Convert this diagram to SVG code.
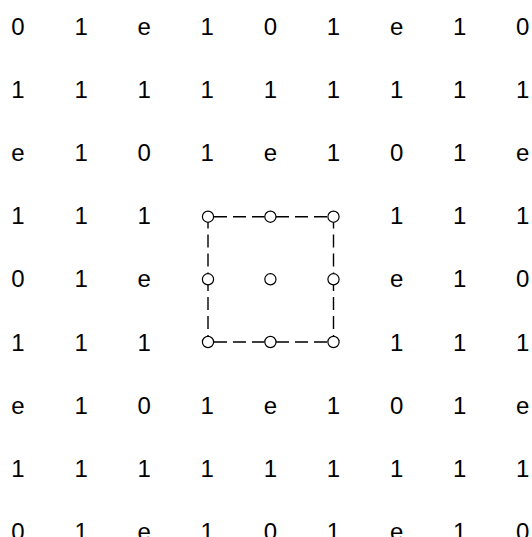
<svg xmlns="http://www.w3.org/2000/svg" width="532" height="537" viewBox="0 0 532 537">
<style>
text{font-family:"Liberation Sans",Arial,sans-serif;font-size:24px;fill:#000;text-anchor:middle}
.c{fill:#fff;stroke:#000;stroke-width:1.2}
.d{stroke:#000;stroke-width:1.4;stroke-dasharray:13 6;fill:none}
</style>
<rect width="532" height="537" fill="#fff"/>
<g id="labels">
<g id="r1"><text x="18" y="35">0</text><text x="81.1" y="35">1</text><text x="144.2" y="35">e</text><text x="207.3" y="35">1</text><text x="270.4" y="35">0</text><text x="333.5" y="35">1</text><text x="396.6" y="35">e</text><text x="459.7" y="35">1</text><text x="522.8" y="35">0</text></g>
<g id="r2"><text x="18" y="98.1">1</text><text x="81.1" y="98.1">1</text><text x="144.2" y="98.1">1</text><text x="207.3" y="98.1">1</text><text x="270.4" y="98.1">1</text><text x="333.5" y="98.1">1</text><text x="396.6" y="98.1">1</text><text x="459.7" y="98.1">1</text><text x="522.8" y="98.1">1</text></g>
<g id="r3"><text x="18" y="161.2">e</text><text x="81.1" y="161.2">1</text><text x="144.2" y="161.2">0</text><text x="207.3" y="161.2">1</text><text x="270.4" y="161.2">e</text><text x="333.5" y="161.2">1</text><text x="396.6" y="161.2">0</text><text x="459.7" y="161.2">1</text><text x="522.8" y="161.2">e</text></g>
<g id="r4"><text x="18" y="224.3">1</text><text x="81.1" y="224.3">1</text><text x="144.2" y="224.3">1</text><text x="396.6" y="224.3">1</text><text x="459.7" y="224.3">1</text><text x="522.8" y="224.3">1</text></g>
<g id="r5"><text x="18" y="287.4">0</text><text x="81.1" y="287.4">1</text><text x="144.2" y="287.4">e</text><text x="396.6" y="287.4">e</text><text x="459.7" y="287.4">1</text><text x="522.8" y="287.4">0</text></g>
<g id="r6"><text x="18" y="350.5">1</text><text x="81.1" y="350.5">1</text><text x="144.2" y="350.5">1</text><text x="396.6" y="350.5">1</text><text x="459.7" y="350.5">1</text><text x="522.8" y="350.5">1</text></g>
<g id="r7"><text x="18" y="413.6">e</text><text x="81.1" y="413.6">1</text><text x="144.2" y="413.6">0</text><text x="207.3" y="413.6">1</text><text x="270.4" y="413.6">e</text><text x="333.5" y="413.6">1</text><text x="396.6" y="413.6">0</text><text x="459.7" y="413.6">1</text><text x="522.8" y="413.6">e</text></g>
<g id="r8"><text x="18" y="476.7">1</text><text x="81.1" y="476.7">1</text><text x="144.2" y="476.7">1</text><text x="207.3" y="476.7">1</text><text x="270.4" y="476.7">1</text><text x="333.5" y="476.7">1</text><text x="396.6" y="476.7">1</text><text x="459.7" y="476.7">1</text><text x="522.8" y="476.7">1</text></g>
<g id="r9"><text x="18" y="539.8">0</text><text x="81.1" y="539.8">1</text><text x="144.2" y="539.8">e</text><text x="207.3" y="539.8">1</text><text x="270.4" y="539.8">0</text><text x="333.5" y="539.8">1</text><text x="396.6" y="539.8">e</text><text x="459.7" y="539.8">1</text><text x="522.8" y="539.8">0</text></g>
</g>
<g id="connectors">
<line class="d" x1="214" y1="216.7" x2="264.5" y2="216.7"/>
<line class="d" x1="276" y1="216.7" x2="327.5" y2="216.7"/>
<line class="d" x1="214" y1="342" x2="264.5" y2="342"/>
<line class="d" x1="276" y1="342" x2="327.5" y2="342"/>
<line class="d" x1="208" y1="222.5" x2="208" y2="273.5" stroke-dashoffset="7"/>
<line class="d" x1="208" y1="285" x2="208" y2="336" stroke-dashoffset="7"/>
<line class="d" x1="333.5" y1="222.5" x2="333.5" y2="273.5" stroke-dashoffset="7"/>
<line class="d" x1="333.5" y1="285" x2="333.5" y2="336" stroke-dashoffset="7"/>
</g>
<g id="n11"><circle class="c" cx="208" cy="216.7" r="5.6"/></g>
<g id="n12"><circle class="c" cx="270.4" cy="216.7" r="5.6"/></g>
<g id="n13"><circle class="c" cx="333.5" cy="216.7" r="5.6"/></g>
<g id="n21"><circle class="c" cx="208" cy="279.3" r="5.6"/></g>
<g id="n22"><circle class="c" cx="270.4" cy="279.3" r="5.6"/></g>
<g id="n23"><circle class="c" cx="333.5" cy="279.3" r="5.6"/></g>
<g id="n31"><circle class="c" cx="208" cy="342" r="5.6"/></g>
<g id="n32"><circle class="c" cx="270.4" cy="342" r="5.6"/></g>
<g id="n33"><circle class="c" cx="333.5" cy="342" r="5.6"/></g>
</svg>
